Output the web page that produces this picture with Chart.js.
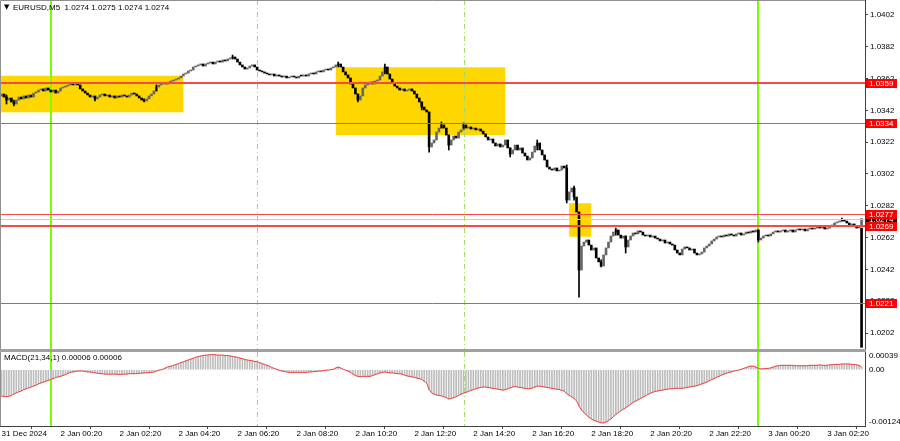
<!DOCTYPE html>
<html>
<head>
<meta charset="utf-8">
<script src="https://cdn.jsdelivr.net/npm/chart.js@4.4.1/dist/chart.umd.min.js"></script>
<style>
  html, body { margin: 0; padding: 0; background: #fff; }
  #wrap { position: relative; width: 900px; height: 441px; overflow: hidden; }
  #mainBox { position: absolute; left: 0; top: 0; width: 900px; height: 349px; }
  #sep { position: absolute; left: 0; top: 349px; width: 866px; height: 3px; background: #a0a0a0; }
  #macdBox { position: absolute; left: 0; top: 352px; width: 900px; height: 89px; }
</style>
</head>
<body>
<div id="wrap">
  <div id="mainBox"><canvas id="priceChart"></canvas></div>
  <div id="sep"></div>
  <div id="macdBox"><canvas id="macdChart"></canvas></div>
</div>
<script>
// EURUSD M5, one close per bar, 31 Dec 2024 22:20 -> 3 Jan 03:30
const firstOpen = 1.03510;
const closes = [
  1.03523,1.03504,1.03485,1.03498,1.03473,1.03460,1.03485,1.03504,1.03492,1.03511,
  1.03498,1.03517,1.03504,1.03529,1.03536,1.03548,1.03555,1.03542,1.03561,1.03548,
  1.03536,1.03548,1.03529,1.03542,1.03561,1.03567,1.03573,1.03580,1.03586,1.03580,
  1.03586,1.03580,1.03555,1.03542,1.03529,1.03517,1.03504,1.03511,1.03492,1.03504,
  1.03517,1.03523,1.03511,1.03517,1.03504,1.03511,1.03498,1.03511,1.03504,1.03517,
  1.03511,1.03504,1.03517,1.03529,1.03523,1.03511,1.03498,1.03485,1.03479,1.03492,
  1.03511,1.03523,1.03542,1.03567,1.03580,1.03586,1.03592,1.03586,1.03599,1.03605,
  1.03611,1.03617,1.03624,1.03636,1.03649,1.03655,1.03668,1.03674,1.03693,1.03699,
  1.03706,1.03712,1.03699,1.03712,1.03718,1.03724,1.03712,1.03724,1.03731,1.03724,
  1.03737,1.03731,1.03743,1.03750,1.03756,1.03743,1.03724,1.03706,1.03693,1.03680,
  1.03687,1.03699,1.03706,1.03693,1.03674,1.03668,1.03662,1.03655,1.03649,1.03643,
  1.03649,1.03636,1.03643,1.03636,1.03630,1.03636,1.03624,1.03630,1.03636,1.03630,
  1.03624,1.03636,1.03636,1.03643,1.03636,1.03649,1.03655,1.03649,1.03662,1.03668,
  1.03662,1.03674,1.03680,1.03674,1.03687,1.03693,1.03706,1.03712,1.03693,1.03662,
  1.03643,1.03624,1.03586,1.03561,1.03523,1.03485,1.03511,1.03561,1.03580,1.03586,
  1.03599,1.03586,1.03605,1.03611,1.03636,1.03662,1.03693,1.03649,1.03617,1.03592,
  1.03573,1.03561,1.03548,1.03555,1.03542,1.03548,1.03555,1.03542,1.03523,1.03498,
  1.03473,1.03441,1.03423,1.03410,1.03190,1.03215,1.03234,1.03284,1.03309,1.03328,
  1.03309,1.03265,1.03202,1.03234,1.03259,1.03246,1.03284,1.03297,1.03328,1.03309,
  1.03316,1.03303,1.03309,1.03297,1.03303,1.03290,1.03272,1.03253,1.03234,1.03240,
  1.03215,1.03196,1.03209,1.03190,1.03202,1.03234,1.03184,1.03146,1.03171,1.03202,
  1.03171,1.03184,1.03152,1.03133,1.03108,1.03121,1.03158,1.03196,1.03215,1.03171,
  1.03140,1.03108,1.03064,1.03051,1.03045,1.03058,1.03039,1.03045,1.03070,1.03058,
  1.02856,1.02907,1.02932,1.02875,1.02781,1.02416,1.02567,1.02592,1.02605,1.02573,
  1.02542,1.02555,1.02492,1.02467,1.02441,1.02511,1.02555,1.02592,1.02630,1.02655,
  1.02668,1.02636,1.02617,1.02630,1.02561,1.02605,1.02630,1.02649,1.02643,1.02662,
  1.02655,1.02636,1.02630,1.02636,1.02624,1.02630,1.02617,1.02611,1.02599,1.02605,
  1.02586,1.02592,1.02580,1.02573,1.02542,1.02523,1.02511,1.02548,1.02561,1.02555,
  1.02542,1.02548,1.02523,1.02511,1.02517,1.02529,1.02555,1.02567,1.02580,1.02599,
  1.02611,1.02624,1.02630,1.02624,1.02636,1.02630,1.02643,1.02636,1.02630,1.02643,
  1.02649,1.02636,1.02643,1.02655,1.02649,1.02662,1.02655,1.02668,1.02605,1.02617,
  1.02630,1.02636,1.02630,1.02643,1.02655,1.02662,1.02655,1.02662,1.02668,1.02655,
  1.02662,1.02668,1.02655,1.02668,1.02674,1.02668,1.02674,1.02662,1.02674,1.02680,
  1.02674,1.02680,1.02687,1.02680,1.02687,1.02674,1.02680,1.02693,1.02699,1.02712,
  1.02718,1.02724,1.02731,1.02724,1.02712,1.02699,1.02706,1.02693,1.02680,1.02693,
  1.02740
];
// bars with a visible wick: [bar, high, low]
const wicks = [
  [2, 1.03517, 1.03460], [5, 1.03485, 1.03448], [38, 1.03504, 1.03479], [58, 1.03492, 1.03473],
  [63, 1.03580, 1.03542], [94, 1.03768, 1.03743], [137, 1.03724, 1.03693], [145, 1.03523, 1.03473],
  [156, 1.03712, 1.03649], [171, 1.03473, 1.03423], [174, 1.03410, 1.03158], [179, 1.03347, 1.03309],
  [182, 1.03265, 1.03171], [188, 1.03341, 1.03309], [207, 1.03184, 1.03127], [218, 1.03234, 1.03171],
  [230, 1.03077, 1.02838], [233, 1.02944, 1.02856], [235, 1.02781, 1.02246], [244, 1.02480, 1.02435],
  [250, 1.02680, 1.02636], [254, 1.02630, 1.02523], [308, 1.02668, 1.02592], [342, 1.02743, 1.02724]
];
// the last bar's spike down to the pane bottom: [bar, high, low]
const lastSpike = [350, 1.02680, 1.01930];
// MACD(21,34,1) main value per bar (signal period 1 = same line)
const macd = [
  -0.00060,-0.00060,-0.00061,-0.00060,-0.00058,-0.00055,-0.00052,-0.00050,-0.00048,-0.00045,
  -0.00043,-0.00041,-0.00039,-0.00037,-0.00035,-0.00032,-0.00030,-0.00028,-0.00026,-0.00024,
  -0.00022,-0.00020,-0.00018,-0.00016,-0.00015,-0.00013,-0.00011,-0.00008,-0.00006,-0.00005,
  -0.00004,-0.00003,-0.00003,-0.00003,-0.00004,-0.00005,-0.00005,-0.00006,-0.00007,-0.00008,
  -0.00009,-0.00009,-0.00010,-0.00010,-0.00010,-0.00010,-0.00010,-0.00010,-0.00011,-0.00010,
  -0.00010,-0.00010,-0.00009,-0.00009,-0.00009,-0.00009,-0.00008,-0.00008,-0.00007,-0.00007,
  -0.00006,-0.00006,-0.00005,-0.00003,-0.00001,0.00000,0.00002,0.00005,0.00007,0.00008,
  0.00010,0.00012,0.00014,0.00016,0.00018,0.00020,0.00022,0.00024,0.00026,0.00028,
  0.00030,0.00031,0.00032,0.00033,0.00033,0.00034,0.00034,0.00034,0.00033,0.00033,
  0.00033,0.00032,0.00032,0.00031,0.00030,0.00029,0.00028,0.00026,0.00025,0.00023,
  0.00022,0.00021,0.00020,0.00019,0.00018,0.00016,0.00014,0.00012,0.00010,0.00008,
  0.00005,0.00003,0.00001,-0.00001,-0.00003,-0.00004,-0.00005,-0.00006,-0.00006,-0.00006,
  -0.00006,-0.00006,-0.00006,-0.00006,-0.00006,-0.00005,-0.00005,-0.00004,-0.00004,-0.00003,
  -0.00003,-0.00002,-0.00001,-0.00001,0.00000,0.00001,0.00004,0.00006,0.00004,0.00001,
  -0.00001,-0.00003,-0.00006,-0.00010,-0.00013,-0.00015,-0.00016,-0.00015,-0.00015,-0.00015,
  -0.00015,-0.00013,-0.00011,-0.00009,-0.00007,-0.00006,-0.00005,-0.00006,-0.00007,-0.00007,
  -0.00008,-0.00009,-0.00009,-0.00010,-0.00012,-0.00014,-0.00015,-0.00016,-0.00017,-0.00019,
  -0.00020,-0.00022,-0.00026,-0.00030,-0.00045,-0.00052,-0.00055,-0.00057,-0.00058,-0.00059,
  -0.00061,-0.00063,-0.00066,-0.00065,-0.00063,-0.00061,-0.00058,-0.00055,-0.00053,-0.00051,
  -0.00049,-0.00047,-0.00045,-0.00043,-0.00041,-0.00040,-0.00039,-0.00039,-0.00040,-0.00041,
  -0.00042,-0.00043,-0.00044,-0.00045,-0.00046,-0.00045,-0.00043,-0.00041,-0.00039,-0.00038,
  -0.00039,-0.00040,-0.00041,-0.00042,-0.00043,-0.00043,-0.00041,-0.00039,-0.00037,-0.00037,
  -0.00038,-0.00039,-0.00040,-0.00041,-0.00042,-0.00043,-0.00044,-0.00045,-0.00047,-0.00048,
  -0.00054,-0.00058,-0.00061,-0.00065,-0.00070,-0.00082,-0.00091,-0.00097,-0.00102,-0.00107,
  -0.00111,-0.00114,-0.00116,-0.00118,-0.00120,-0.00120,-0.00118,-0.00115,-0.00111,-0.00106,
  -0.00101,-0.00097,-0.00093,-0.00089,-0.00086,-0.00082,-0.00078,-0.00074,-0.00071,-0.00068,
  -0.00065,-0.00062,-0.00059,-0.00056,-0.00053,-0.00051,-0.00049,-0.00048,-0.00047,-0.00046,
  -0.00045,-0.00044,-0.00043,-0.00043,-0.00042,-0.00042,-0.00042,-0.00042,-0.00041,-0.00040,
  -0.00039,-0.00038,-0.00037,-0.00036,-0.00034,-0.00032,-0.00030,-0.00028,-0.00025,-0.00022,
  -0.00020,-0.00017,-0.00015,-0.00012,-0.00010,-0.00008,-0.00006,-0.00005,-0.00003,-0.00002,
  -0.00001,0.00001,0.00003,0.00005,0.00007,0.00008,0.00008,0.00006,0.00003,0.00002,
  0.00002,0.00003,0.00003,0.00004,0.00006,0.00008,0.00009,0.00010,0.00010,0.00010,
  0.00010,0.00010,0.00010,0.00009,0.00009,0.00009,0.00009,0.00009,0.00009,0.00010,
  0.00010,0.00010,0.00010,0.00011,0.00010,0.00010,0.00010,0.00011,0.00011,0.00012,
  0.00012,0.00012,0.00013,0.00013,0.00013,0.00013,0.00012,0.00012,0.00011,0.00010,
  0.00006
];
const timeTickBars = [0, 24, 48, 72, 96, 120, 144, 168, 192, 216, 240, 264, 288, 312, 336];
const timeLabels = ['31 Dec 2024', '2 Jan 00:20', '2 Jan 02:20', '2 Jan 04:20', '2 Jan 06:20',
  '2 Jan 08:20', '2 Jan 10:20', '2 Jan 12:20', '2 Jan 14:20', '2 Jan 16:20', '2 Jan 18:20',
  '2 Jan 20:20', '2 Jan 22:20', '3 Jan 00:20', '3 Jan 02:20'];
const priceTicks = [1.0202, 1.0222, 1.0242, 1.0262, 1.0282, 1.0302, 1.0322, 1.0342, 1.0362, 1.0382, 1.0402];
const macdTicks = ['0.00039', '0.00', '-0.00124'];

// horizontal levels and their line widths
const levels = [1.0359, 1.0334, 1.0277, 1.0269, 1.0221];
const levelWidths = [2, 1, 1, 2, 1];
const bid = 1.0274;
const lastBar = [1.0274, 1.0275, 1.0274, 1.0274];
const macdNow = [0.00006, 0.00006];

// day separators (00:00) and session marks, as bar numbers
const dayStarts = [20, 308];
const sessionMarks = [104, 188];

// yellow zones: bar from / to, price top / bottom
const boxFrom = [-1, 136, 231];
const boxTo = [74, 205, 240];
const boxTop = [1.03638, 1.03691, 1.02836];
const boxBottom = [1.03408, 1.03265, 1.02626];

Chart.defaults.font.family = "'Liberation Sans', Arial, sans-serif";
Chart.defaults.font.size = 8;
Chart.defaults.color = '#000';
Chart.defaults.animation = false;

const xMin = -0.65, xMax = 351.4;

const markers = {
  id: 'markers',
  beforeDatasetsDraw(chart) {
    const { ctx, chartArea: a, scales: { x, y } } = chart;
    ctx.save();
    ctx.beginPath();
    ctx.rect(a.left, a.top, a.right - a.left, a.bottom - a.top);
    ctx.clip();
    if (chart.canvas.id === 'priceChart') {
      ctx.fillStyle = '#ffd700';
      boxFrom.forEach((b, k) => {
        const x0 = x.getPixelForValue(b), x1 = x.getPixelForValue(boxTo[k]);
        const y0 = y.getPixelForValue(boxTop[k]), y1 = y.getPixelForValue(boxBottom[k]);
        ctx.fillRect(x0, y0, x1 - x0, y1 - y0);
      });
    }
    ctx.strokeStyle = '#a6d96a';
    ctx.lineWidth = 1;
    ctx.setLineDash([5, 3, 1, 3]);
    sessionMarks.forEach(b => {
      const px = Math.round(x.getPixelForValue(b)) + 0.5;
      ctx.beginPath(); ctx.moveTo(px, a.top); ctx.lineTo(px, a.bottom); ctx.stroke();
    });
    ctx.setLineDash([]);
    ctx.strokeStyle = '#7cfc00';
    ctx.lineWidth = 2;
    dayStarts.forEach(b => {
      const px = Math.round(x.getPixelForValue(b));
      ctx.beginPath(); ctx.moveTo(px, a.top); ctx.lineTo(px, a.bottom); ctx.stroke();
    });
    ctx.restore();
  }
};

const priceOverlay = {
  id: 'priceOverlay',
  afterDatasetsDraw(chart) {
    const { ctx, chartArea: a, scales: { y } } = chart;
    ctx.save();
    ctx.strokeStyle = '#cccccc';
    ctx.lineWidth = 1;
    const by = Math.round(y.getPixelForValue(bid)) + 0.5;
    ctx.beginPath(); ctx.moveTo(a.left, by); ctx.lineTo(a.right, by); ctx.stroke();
    ctx.strokeStyle = '#f84848';
    levels.forEach((p, k) => {
      ctx.lineWidth = levelWidths[k];
      const py = Math.round(y.getPixelForValue(p)) + (levelWidths[k] % 2 ? 0.5 : 0);
      ctx.beginPath(); ctx.moveTo(a.left, py); ctx.lineTo(a.right, py); ctx.stroke();
    });
    ctx.restore();
  },
  afterDraw(chart) {
    const { ctx, chartArea: a, scales: { y } } = chart;
    ctx.save();
    // frame
    ctx.strokeStyle = '#909090';
    ctx.lineWidth = 1;
    ctx.beginPath(); ctx.moveTo(0.5, a.bottom); ctx.lineTo(0.5, 0.5); ctx.lineTo(a.right, 0.5); ctx.stroke();
    // price tags on the axis
    ctx.font = "8px 'Liberation Sans', Arial, sans-serif";
    ctx.textBaseline = 'middle';
    ctx.textAlign = 'left';
    const tag = (p, bg) => {
      const py = Math.round(y.getPixelForValue(p));
      ctx.fillStyle = bg;
      ctx.fillRect(a.right + 1, py - 4, 31, 9);
      ctx.fillStyle = '#fff';
      ctx.fillText(p.toFixed(4), a.right + 4, py + 1);
    };
    tag(bid, '#000');
    levels.forEach(p => tag(p, '#ff0000'));
    // symbol line
    ctx.fillStyle = '#000';
    ctx.font = "7px 'DejaVu Sans', sans-serif";
    ctx.fillText('\u25BC', 4, 7);
    ctx.font = "8px 'Liberation Sans', Arial, sans-serif";
    ctx.fillText('EURUSD,M5  ' + lastBar.map(v => v.toFixed(4)).join(' '), 13, 7.5);
    ctx.restore();
  }
};

const macdOverlay = {
  id: 'macdOverlay',
  afterDraw(chart) {
    const { ctx, chartArea: a } = chart;
    ctx.save();
    ctx.strokeStyle = '#909090';
    ctx.lineWidth = 1;
    ctx.beginPath(); ctx.moveTo(0.5, a.top); ctx.lineTo(0.5, a.bottom); ctx.stroke();
    ctx.fillStyle = '#000';
    ctx.font = "8px 'Liberation Sans', Arial, sans-serif";
    ctx.textBaseline = 'middle';
    ctx.fillText('MACD(21,34,1) ' + macdNow.map(v => v.toFixed(5)).join(' '), 4, 6);
    ctx.restore();
  }
};

const opens = closes.map((c, i) => (i === 0 ? firstOpen : closes[i - 1]));

new Chart(document.getElementById('priceChart'), {
  type: 'bar',
  data: {
    datasets: [
      {
        label: 'spike',
        data: [{ x: lastSpike[0], y: [lastSpike[2], lastSpike[1]] }],
        backgroundColor: '#000',
        barThickness: 2,
        grouped: false
      },
      {
        label: 'wicks',
        data: wicks.map(w => ({ x: w[0], y: [w[2], w[1]] })),
        backgroundColor: '#000',
        barThickness: 1,
        grouped: false
      },
      {
        label: 'EURUSD',
        data: closes.map((c, i) => ({ x: i, y: [opens[i], c] })),
        backgroundColor: ctx => (ctx.raw && ctx.raw.y[1] > ctx.raw.y[0] ? '#666666' : '#000'),
        barThickness: 2,
        minBarLength: 1,
        grouped: false
      }
    ]
  },
  options: {
    responsive: true,
    maintainAspectRatio: false,
    events: [],
    layout: { padding: 0 },
    plugins: { legend: { display: false }, tooltip: { enabled: false } },
    scales: {
      x: { type: 'linear', display: false, min: xMin, max: xMax, offset: false },
      y: {
        position: 'right',
        min: 1.019194,
        max: 1.041143,
        beginAtZero: false,
        afterBuildTicks: s => { s.ticks = priceTicks.map(v => ({ value: v })); },
        afterFit: s => { s.width = 35; s.paddingTop = 0; s.paddingBottom = 0; },
        border: { display: true, color: '#404040', width: 1 },
        grid: { drawOnChartArea: false, tickLength: 3, color: '#404040' },
        ticks: { padding: 2, color: '#000', callback: v => v.toFixed(4) }
      }
    }
  },
  plugins: [markers, priceOverlay]
});

new Chart(document.getElementById('macdChart'), {
  type: 'bar',
  data: {
    datasets: [
      {
        type: 'line',
        label: 'Signal',
        data: macd.map((v, i) => ({ x: i, y: v })),
        borderColor: '#f03c3c',
        borderWidth: 1,
        pointRadius: 0,
        tension: 0
      },
      {
        label: 'MACD',
        data: macd.map((v, i) => ({ x: i, y: v })),
        backgroundColor: '#bdbdbd',
        barThickness: 1,
        grouped: false
      }
    ]
  },
  options: {
    responsive: true,
    maintainAspectRatio: false,
    events: [],
    layout: { padding: 0 },
    plugins: { legend: { display: false }, tooltip: { enabled: false } },
    scales: {
      x: {
        type: 'linear', min: xMin, max: xMax, offset: false,
        afterBuildTicks: s => { s.ticks = timeTickBars.map(v => ({ value: v })); },
        afterFit: s => { s.height = 15; s.paddingLeft = 0; s.paddingRight = 0; },
        border: { display: true, color: '#404040', width: 1 },
        grid: { drawOnChartArea: false, tickLength: 3, color: '#404040' },
        ticks: {
          align: 'start', maxRotation: 0, autoSkip: false, padding: 0, color: '#000',
          callback: v => timeLabels[timeTickBars.indexOf(v)]
        }
      },
      y: {
        position: 'right',
        min: -0.00127,
        max: 0.00040,
        beginAtZero: false,
        afterBuildTicks: s => {
          s.ticks = macdTicks.map(t => ({ value: Math.min(Math.max(+t, s.min + 0.0001), s.max - 0.00009) }));
        },
        afterFit: s => { s.width = 35; s.paddingTop = 0; s.paddingBottom = 0; },
        border: { display: true, color: '#404040', width: 1 },
        grid: { drawOnChartArea: false, drawTicks: false },
        ticks: { padding: 4, color: '#000', callback: (v, k) => macdTicks[k] }
      }
    }
  },
  plugins: [markers, macdOverlay]
});
</script>
</body>
</html>
